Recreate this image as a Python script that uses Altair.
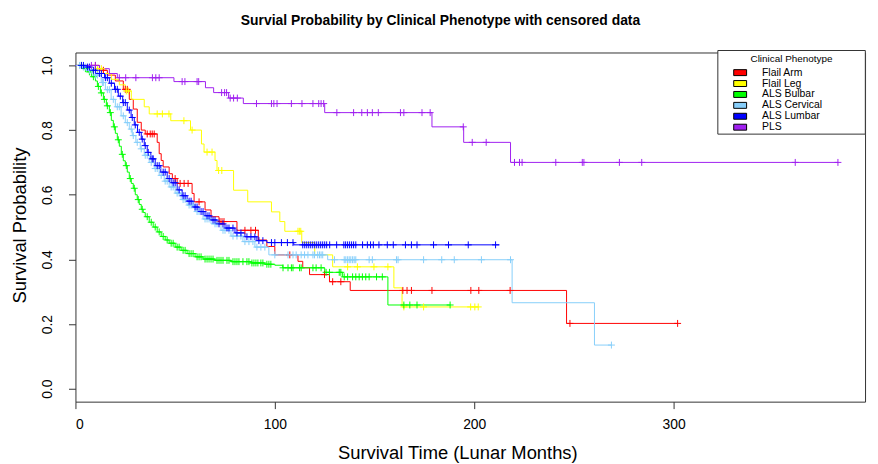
import altair as alt
import pandas as pd

# ---------------- data ----------------
phenotypes = ["Flail Arm", "Flail Leg", "ALS Bulbar", "ALS Cervical", "ALS Lumbar", "PLS"]
colors = ["#FF0000", "#FFFF00", "#00FF00", "#87CEFA", "#0000FF", "#A020F0"]
legend_title = "Clinical Phenotype"

# Flail Arm
arm_t = [0, 12, 16, 20, 24, 27, 29, 31, 33, 35, 41, 42, 43, 44, 47, 48.6, 51, 58.5, 59.5, 65,
         68, 72, 81, 91.7, 96, 100, 111.6, 114, 117.4, 127.4, 137.8, 246.3]
arm_s = [1.0, 0.985, 0.97, 0.952, 0.926, 0.895, 0.865, 0.824, 0.80, 0.788, 0.762, 0.727, 0.706,
         0.686, 0.665, 0.65, 0.635, 0.604, 0.578, 0.553, 0.532, 0.517, 0.49, 0.46, 0.44, 0.414,
         0.394, 0.374, 0.353, 0.331, 0.304, 0.202]
arm_end = 302
arm_cens = [10, 14, 25, 26, 36, 37.5, 38.5, 39.5, 50, 52.5, 54.5, 56.5, 62, 72.5, 73.5, 74.5, 85, 88,
            90.3, 107.5, 124.9, 129, 133.1, 164.2, 166.3, 168.5, 178.8, 198.3, 202.3, 218, 248, 302]

# Flail Leg
leg_t = [0, 10, 14, 18, 22, 25, 28, 34.5, 37, 47.8, 57.7, 63.2, 64.5, 70, 71, 79.3, 86.4, 98.3,
         102.5, 105, 113.5, 120, 129, 159.7, 163.8]
leg_s = [1.0, 0.99, 0.975, 0.957, 0.94, 0.921, 0.895, 0.872, 0.85, 0.829, 0.80, 0.757, 0.732,
         0.706, 0.675, 0.614, 0.578, 0.547, 0.517, 0.487, 0.452, 0.414, 0.377, 0.312, 0.253]
leg_end = 202
leg_cens = [11, 13, 25.5, 26.5, 41, 43.6, 46.9, 54.4, 58.5, 66, 68.5, 71.8, 73.4, 111.6, 112.3, 113,
            136.5, 141.4, 149.7, 156.7, 164.7, 174.6, 198.2, 200.3, 202]

# ALS Bulbar
bul_t = [0, 4, 6, 8, 10, 11, 12.5, 14, 15.5, 17, 18, 19, 20, 21, 22, 23, 24, 25, 26, 27, 28, 29,
         30, 31, 32, 33, 34, 35, 37, 39, 41, 43, 45, 47, 50, 53, 56, 60, 64, 70, 78, 88, 95, 100,
         104, 125, 134, 156.7]
bul_s = [1.0, 0.99, 0.98, 0.965, 0.952, 0.935, 0.915, 0.895, 0.875, 0.854, 0.83, 0.81, 0.79, 0.77,
         0.75, 0.725, 0.705, 0.69, 0.67, 0.65, 0.635, 0.62, 0.60, 0.585, 0.57, 0.555, 0.545, 0.532,
         0.515, 0.50, 0.485, 0.471, 0.46, 0.45, 0.438, 0.428, 0.418, 0.408, 0.401, 0.397, 0.393,
         0.389, 0.385, 0.382, 0.374, 0.36, 0.346, 0.259]
bul_end = 188
bul_cens = [3, 5, 7, 9, 11.5, 13, 14.5, 16, 17.5, 19.5, 21.5, 23.5, 25.5, 27.5, 29.5, 31.5, 33.5, 36,
            38, 40, 42, 44, 46, 48, 49, 51, 52, 54, 55, 57, 58, 59, 61, 62, 63, 65, 66, 67, 68, 69,
            71, 72, 73, 74, 76, 77, 79, 80, 81, 82, 84, 86, 87, 88.5, 89.5, 90.5, 91.5, 93, 94, 96,
            97, 98, 104.1, 106.6, 108.3, 109.1, 112.4, 113.2, 119.1, 120.7, 123.2, 125.7, 127.4,
            132.3, 133.1, 134.8, 136.5, 139, 140.6, 142.3, 143.9, 145.6, 147.3, 151, 153.9, 164.7,
            167.7, 171.3, 187.9]

# ALS Cervical
cer_t = [0, 3, 6, 9, 12.9, 15, 17.9, 20, 22.9, 25, 27, 28.5, 30.3, 32.5, 34.5, 37, 39.5, 42, 44.5,
         47, 50, 53, 56, 60, 64, 68, 73, 78, 84, 90, 97, 126.5, 219, 260.3]
cer_s = [1.0, 0.995, 0.985, 0.97, 0.947, 0.925, 0.895, 0.872, 0.844, 0.823, 0.803, 0.783, 0.762,
         0.742, 0.722, 0.70, 0.681, 0.66, 0.642, 0.624, 0.605, 0.585, 0.568, 0.548, 0.525, 0.51,
         0.49, 0.472, 0.455, 0.438, 0.414, 0.399, 0.266, 0.135]
cer_end = 268.8
cer_cens = [2, 4, 5, 7, 8, 10, 11, 13.5, 14, 16, 17, 19, 21, 22, 24, 26, 28, 29, 31, 33, 35, 36, 38,
            40, 41, 43, 45, 46, 48, 49, 51, 52, 54, 55, 57, 58, 59, 61, 62, 65, 66, 67, 70, 71, 74,
            75, 77, 79, 81, 83, 85, 87, 89, 91, 93, 95, 100, 106.6, 109.1, 110.7, 113.2, 114.9,
            116.6, 119.1, 119.9, 121.5, 122.4, 123.2, 124, 129.9, 134.8, 135.6, 136.5, 137.3,
            138.1, 139, 139.8, 140.6, 147.3, 148.9, 161, 161.8, 174.6, 183.7, 190, 203.6, 218.2,
            268.8]

# ALS Lumbar
lum_t = [0, 5, 8, 11, 14.6, 17, 19.6, 21.5, 23.7, 26, 27.9, 29.5, 31.1, 33, 34.5, 36, 37.8, 40,
         42.8, 46, 48, 51, 53.5, 56, 59, 62, 65, 68, 71, 75, 80, 85, 91, 96, 109.5]
lum_s = [1.0, 0.995, 0.985, 0.975, 0.962, 0.945, 0.926, 0.905, 0.885, 0.862, 0.839, 0.816, 0.793,
         0.772, 0.752, 0.731, 0.711, 0.69, 0.67, 0.65, 0.637, 0.615, 0.597, 0.58, 0.562, 0.548,
         0.535, 0.522, 0.51, 0.497, 0.482, 0.47, 0.458, 0.452, 0.445]
lum_end = 212.7
lum_cens = [3, 4, 6, 7, 9, 10, 12, 13, 15, 16, 18, 20, 21, 22.5, 24, 25, 27, 28.5, 30, 32, 33.5, 35,
            36.5, 38.5, 39, 41, 42, 44, 45, 47, 49, 50, 52, 54, 55, 57, 58, 60, 61, 63, 64, 66, 67,
            69, 70, 72, 74, 76, 77, 79, 81, 83, 86, 88, 90, 92, 94, 98.3, 100, 103.3, 106.3, 109.1,
            114, 115, 116, 117, 118, 119, 120, 121, 122, 123, 124, 125, 126, 127.5, 131, 134.6,
            135.5, 136.5, 137.5, 138.5, 139.5, 140.6, 144, 146.4, 148, 149.4, 152.2, 156.4, 159.4,
            165.5, 168.5, 171.3, 179.6, 187.1, 197, 210.7]

# PLS
pls_t = [0, 12.1, 17, 21, 49.4, 65.2, 69.3, 76.8, 84.2, 125, 178.8, 194.7, 218.2]
pls_s = [1.0, 0.99, 0.975, 0.962, 0.95, 0.931, 0.916, 0.899, 0.882, 0.854, 0.81, 0.762, 0.70]
pls_end = 382.4
pls_cens = [8, 10, 22, 25.2, 30.3, 38.6, 40.3, 42, 53.5, 54.9, 61, 61.8, 73.3, 74.8, 75.8, 77.6, 79.3,
            81.2, 90.8, 98.3, 99.5, 101.1, 108.3, 113.6, 119.1, 122, 123.2, 124.5, 131.1, 139.5,
            143.6, 146.4, 148.9, 151.9, 163, 164.7, 173.8, 177.9, 194.5, 199, 206, 220.2, 222.7,
            224, 240.9, 254.2, 255, 272.8, 284, 361, 382.4]

x_ticks = [0, 100, 200, 300]
y_ticks = [0.0, 0.2, 0.4, 0.6, 0.8, 1.0]

# ---------------- tables ----------------
curves = [
    (arm_t, arm_s, arm_end, arm_cens),
    (leg_t, leg_s, leg_end, leg_cens),
    (bul_t, bul_s, bul_end, bul_cens),
    (cer_t, cer_s, cer_end, cer_cens),
    (lum_t, lum_s, lum_end, lum_cens),
    (pls_t, pls_s, pls_end, pls_cens),
]

line_rows, cens_rows, leg_rows = [], [], []
for name, (ts, ss, end, cens) in zip(phenotypes, curves):
    for t, s in zip(ts, ss):
        line_rows.append({"phenotype": name, "time": t, "surv": s})
    line_rows.append({"phenotype": name, "time": end, "surv": ss[-1]})
    for c in cens:
        s_at = ss[0]
        for t, s in zip(ts, ss):
            if t <= c:
                s_at = s
        cens_rows.append({"phenotype": name, "time": c, "surv": s_at})
    leg_rows.append({"phenotype": name, "time": ts[0], "surv": ss[0]})

line_df = pd.DataFrame(line_rows)
cens_df = pd.DataFrame(cens_rows)
leg_df = pd.DataFrame(leg_rows)

FONT = "Liberation Sans"

x_scale = alt.Scale(domain=[0, 396], nice=False, zero=False)
y_scale = alt.Scale(domain=[-0.04, 1.04], nice=False, zero=False)
color_scale = alt.Scale(domain=phenotypes, range=colors)

x_axis = alt.Axis(values=x_ticks, title="Survival Time (Lunar Months)", grid=False, domain=False,
                  tickSize=7, tickColor="#333333", labelFontSize=14, labelFont=FONT,
                  labelColor="#000000", labelPadding=9, titleFont=FONT, titleFontSize=18.5,
                  titleFontWeight="normal", titleColor="#000000", titleX=385, titleY=51,
                  titleBaseline="middle", titleAnchor="middle", titleAlign="center")
y_axis = alt.Axis(values=y_ticks, format=".1f", title="Survival Probability", grid=False,
                  domain=False, tickSize=7, tickColor="#333333", labelFontSize=14, labelFont=FONT,
                  labelColor="#000000", labelAngle=-90, labelAlign="center",
                  labelBaseline="alphabetic", labelPadding=17, titleFont=FONT, titleFontSize=18.5,
                  titleFontWeight="normal", titleColor="#000000", titleX=-56, titleY=174,
                  titleAngle=-90, titleBaseline="middle", titleAlign="center")

lines = alt.Chart(line_df).mark_line(interpolate="step-after", strokeWidth=1).encode(
    x=alt.X("time:Q", scale=x_scale, axis=x_axis),
    y=alt.Y("surv:Q", scale=y_scale, axis=y_axis),
    color=alt.Color("phenotype:N", scale=color_scale, legend=None),
)

censors = alt.Chart(cens_df).mark_point(
    shape="M-1,0L1,0M0,-1L0,1", size=49, filled=False, strokeWidth=1, opacity=1
).encode(
    x=alt.X("time:Q", scale=x_scale),
    y=alt.Y("surv:Q", scale=y_scale),
    color=alt.Color("phenotype:N", scale=color_scale, legend=None),
)

# legend frame and title (legend box drawn like R's legend())
frame = alt.Chart(pd.DataFrame({"k": [0]})).mark_rect(
    fill="white", stroke="#333333", strokeWidth=1
).encode(
    x=alt.value(647.6), x2=alt.value(796.3), y=alt.value(-2), y2=alt.value(82.3)
)
frame_title = alt.Chart(pd.DataFrame({"label": [legend_title]})).mark_text(
    font=FONT, fontSize=10, color="#000000", align="center", baseline="middle"
).encode(
    text="label:N", x=alt.value(721.9), y=alt.value(7)
)

legend_layer = alt.Chart(leg_df).mark_point(
    filled=True, opacity=0, shape="M-1.3,-0.6L1.3,-0.6L1.3,0.6L-1.3,0.6Z", size=100
).encode(
    x=alt.X("time:Q", scale=x_scale),
    y=alt.Y("surv:Q", scale=y_scale),
    color=alt.Color(
        "phenotype:N", scale=color_scale,
        legend=alt.Legend(
            title=None, orient="none", legendX=653.6, legendY=14.8,
            direction="vertical", symbolType="M-1.3,-0.6L1.3,-0.6L1.3,0.6L-1.3,0.6Z",
            symbolSize=100, symbolStrokeColor="black", symbolStrokeWidth=1, symbolOpacity=1,
            symbolOffset=11, labelOffset=16.5, labelFontSize=10.5, labelFont=FONT,
            labelColor="#000000", labelLimit=300, padding=0, rowPadding=-0.7,
        ),
    ),
)

chart = alt.layer(lines, censors, frame, frame_title, legend_layer).resolve_legend(
    color="independent"
).properties(
    width=796, height=352,
    title=alt.TitleParams(
        "Survial Probability by Clinical Phenotype with censored data",
        font=FONT, fontSize=14, fontWeight="bold", color="#000000", anchor="middle",
        dx=-30, offset=11, baseline="alphabetic",
    ),
    autosize=alt.AutoSizeParams(type="none"),
    padding={"left": 68, "top": 43, "right": 5, "bottom": 61},
).configure_view(stroke="#333333", strokeWidth=1)

chart.save("out.html", embed_options={"renderer": "svg", "actions": False})
